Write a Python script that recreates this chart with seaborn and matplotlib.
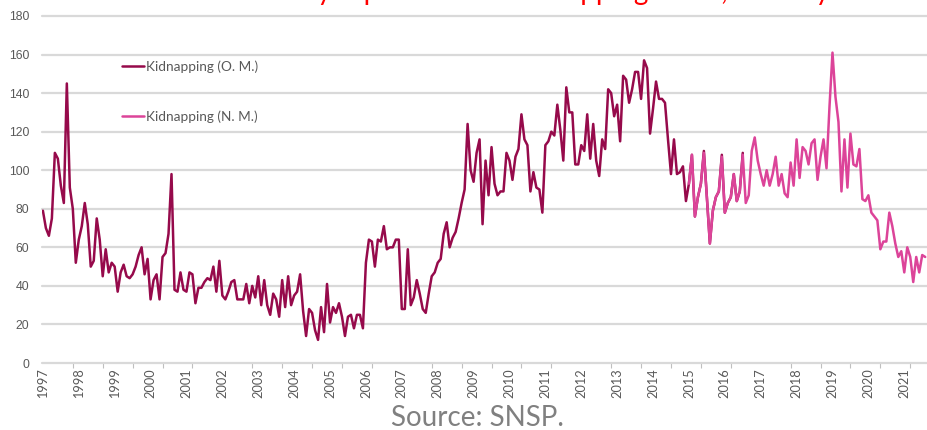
import numpy as np
import pandas as pd
import matplotlib
matplotlib.use("Agg")
import matplotlib.pyplot as plt
import seaborn as sns

# ---------------- data ----------------
series_names = ["Kidnapping (O. M.)", "Kidnapping (N. M.)"]
first_year = 1997
nm_first_year = 2015
years = list(range(1997, 2022))
y_ticks = [0, 20, 40, 60, 80, 100, 120, 140, 160, 180]

# Old methodology, monthly from Jan 1997 to Jul 2016
om_values = [
    79, 70, 66, 75, 109, 106, 92, 83, 145, 91, 80, 52,      # 1997
    64, 71, 83, 72, 50, 53, 75, 64, 45, 59, 47, 52,         # 1998
    50, 37, 47, 51, 45, 44, 46, 50, 56, 60, 46, 54,         # 1999
    33, 43, 46, 33, 55, 57, 67, 98, 38, 37, 47, 38,         # 2000
    37, 47, 46, 31, 39, 39, 42, 44, 43, 50, 37, 53,         # 2001
    35, 33, 37, 42, 43, 33, 33, 33, 41, 31, 40, 34,         # 2002
    45, 30, 43, 30, 25, 36, 33, 24, 43, 29, 45, 30,         # 2003
    35, 37, 46, 27, 14, 28, 26, 17, 12, 29, 16, 41,         # 2004
    21, 29, 26, 31, 24, 14, 24, 25, 18, 25, 25, 18,         # 2005
    52, 64, 63, 50, 64, 63, 71, 59, 60, 60, 64, 64,         # 2006
    28, 28, 59, 30, 34, 43, 36, 28, 26, 36, 45, 47,         # 2007
    52, 54, 67, 73, 60, 65, 68, 75, 83, 90, 124, 100,       # 2008
    94, 109, 116, 72, 105, 87, 112, 93, 87, 89, 89, 109,    # 2009
    105, 95, 107, 111, 129, 116, 113, 89, 99, 91, 90, 78,   # 2010
    113, 115, 120, 118, 134, 121, 105, 143, 130, 130, 103, 103,  # 2011
    113, 110, 129, 106, 124, 105, 97, 116, 111, 142, 140, 128,   # 2012
    134, 115, 149, 147, 135, 142, 151, 151, 137, 157, 153, 119,  # 2013
    132, 146, 137, 137, 135, 116, 98, 116, 98, 99, 102, 84,      # 2014
    93, 108, 76, 86, 93, 110, 86, 62, 79, 86, 89, 108,           # 2015
    78, 83, 86, 98, 84, 89, 109,                                 # 2016
]

# New methodology, monthly from Jan 2015 to Aug 2021
nm_values = [
    93, 108, 76, 86, 93, 109, 86, 62, 79, 86, 89, 107,      # 2015
    78, 83, 86, 98, 84, 89, 108, 83, 87, 110, 117, 105,     # 2016
    98, 92, 100, 92, 98, 107, 92, 98, 88, 86, 104, 92,      # 2017
    116, 96, 112, 110, 103, 114, 116, 95, 107, 116, 101, 133,  # 2018
    161, 138, 125, 89, 116, 91, 119, 103, 102, 111, 85, 84,    # 2019
    87, 78, 76, 74, 59, 63, 63, 78, 71, 62, 55, 58,         # 2020
    47, 60, 55, 42, 55, 47, 56, 55,                         # 2021
]

title_text = "Monthly reports of the kidnapping cases, January 1997 - July 2021"
source_text = "Source: SNSP."

# ---------------- style ----------------
sns.set_theme(style="white")
plt.rcParams["font.family"] = ["Lato", "DejaVu Sans"]

dark = "#960A4B"
pink = "#DC4499"
grid_c = "#D9D9D9"
text_c = "#595959"

om_month = np.arange(len(om_values))
nm_month = (nm_first_year - first_year) * 12 + np.arange(len(nm_values))
df = pd.concat([
    pd.DataFrame({"month": om_month, "value": om_values, "series": series_names[0]}),
    pd.DataFrame({"month": nm_month, "value": nm_values, "series": series_names[1]}),
], ignore_index=True)

W, H = 927, 430
fig = plt.figure(figsize=(W / 100, H / 100), dpi=100)
ax = fig.add_axes([42 / W, 1 - 363 / H, 885 / W, 347 / H])

sns.lineplot(data=df, x="month", y="value", hue="series", hue_order=series_names,
             palette=[dark, pink], linewidth=1.8, ax=ax, legend=True)

ax.set_xlim(-0.3, 295.6)
ax.set_ylim(0, 180)
ax.set_xlabel("")
ax.set_ylabel("")
for s in ax.spines.values():
    s.set_visible(False)

# grid
ax.set_yticks(y_ticks)
ax.yaxis.grid(True, color=grid_c, linewidth=1.6)
for gl in ax.get_ygridlines():
    gl.set_clip_on(False)
ax.set_axisbelow(True)
ax.tick_params(axis="y", length=0, pad=9, labelsize=8.8, labelcolor=text_c)
for lab in ax.get_yticklabels():
    lab.set_fontfamily(["Liberation Sans Narrow", "Liberation Sans", "DejaVu Sans"])

# x ticks: labels per year, small tick marks every 10 months
ax.set_xticks([12 * i for i in range(len(years))])
ax.set_xticklabels([str(y) for y in years], rotation=90)
ax.set_xticks(np.arange(0, 296, 10), minor=True)
ax.tick_params(axis="x", which="major", length=0, pad=4, labelsize=9.2, labelcolor=text_c)
ax.tick_params(axis="x", which="minor", length=3.5, width=0.8, color="#BFBFBF", bottom=True)

# legend
handles, labels = ax.get_legend_handles_labels()
leg = ax.legend(handles, labels, loc="upper left", bbox_to_anchor=(0.09, 0.872),
                frameon=False, fontsize=9.8, handlelength=1.65, handletextpad=0.15,
                labelspacing=2.75, borderpad=0, borderaxespad=0)
for t in leg.get_texts():
    t.set_color(text_c)
for l in leg.get_lines():
    l.set_linewidth(1.8)

# title (cut at top edge as in reference) and source
fig.text(228 / W, 1 + 0.5 / H, title_text, color="#FF0000", fontsize=20,
         ha="left", va="baseline")
fig.text(477 / W, 1 - 418 / H, source_text, color="#808080", fontsize=20,
         ha="center", va="center")

fig.savefig("out.png", dpi=100)
